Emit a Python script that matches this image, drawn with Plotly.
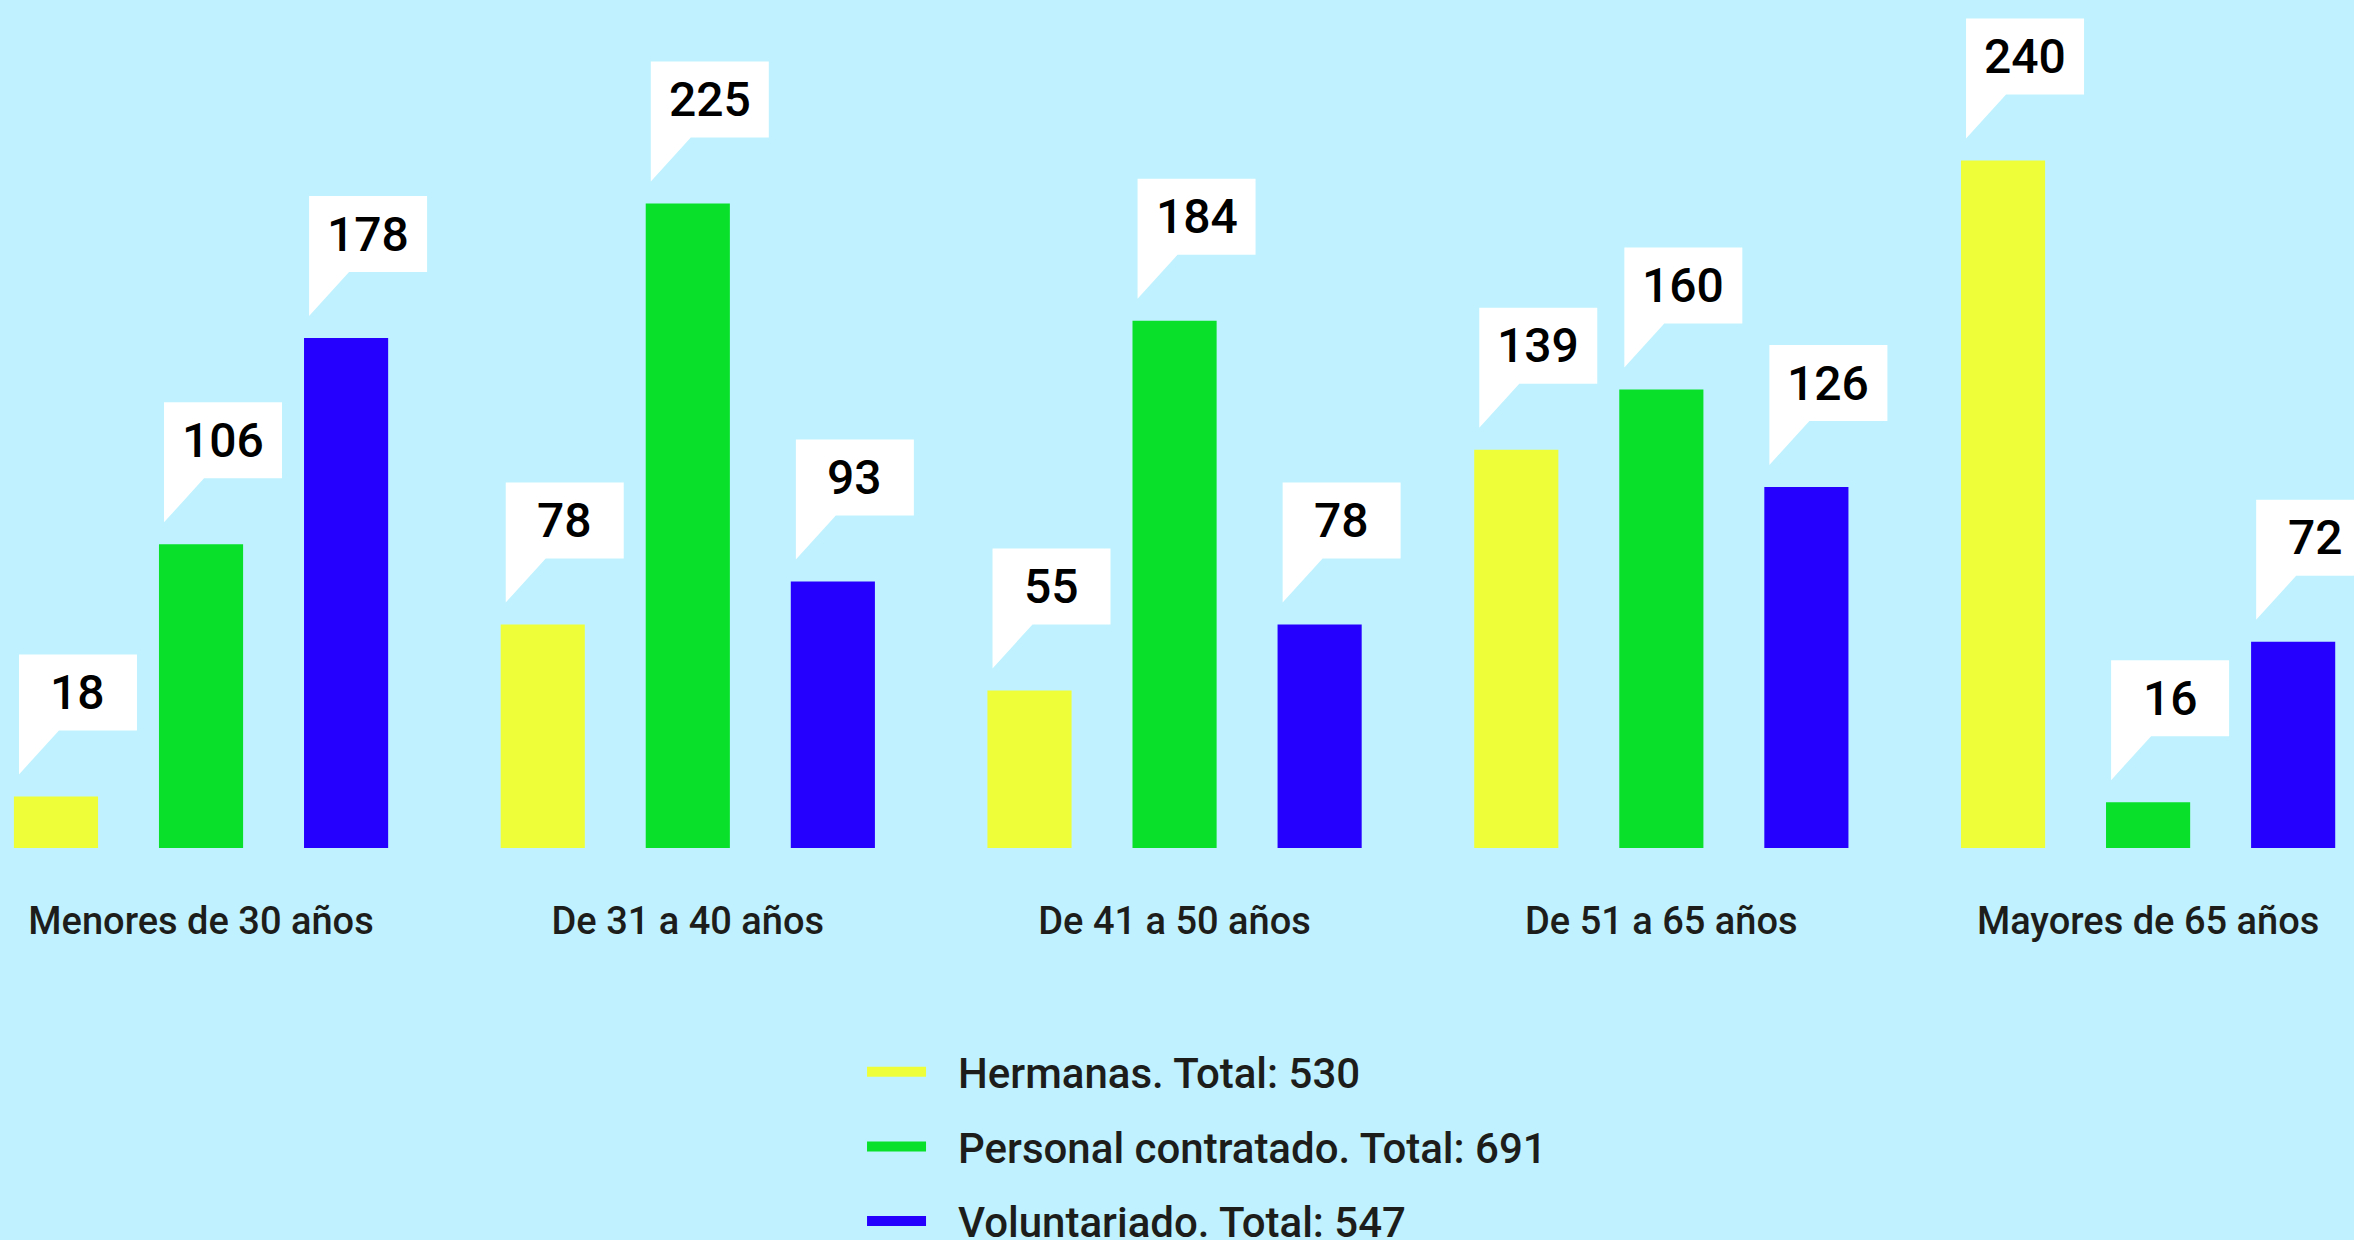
import plotly.graph_objects as go

categories = ["Menores de 30 años", "De 31 a 40 años", "De 41 a 50 años",
              "De 51 a 65 años", "Mayores de 65 años"]
series_names = ["Hermanas. Total: 530", "Personal contratado. Total: 691",
                "Voluntariado. Total: 547"]
hermanas = [18, 78, 55, 139, 240]
personal = [106, 225, 184, 160, 16]
voluntariado = [178, 93, 78, 126, 72]
series_values = [hermanas, personal, voluntariado]
colors = ["#EEFF3A", "#08E02A", "#2600FF"]

BG = "#BFF2FE"
BARGAP = 0.106
GROUPGAP = 0.42
FONT = "Roboto"

fig = go.Figure()
xs = list(range(len(categories)))
for name, vals, col in zip(series_names, series_values, colors):
    fig.add_trace(go.Bar(x=xs, y=vals, name=name, marker_color=col,
                         marker_line_width=0, showlegend=False,
                         hoverinfo="skip"))
for k, (name, col) in enumerate(zip(series_names, colors)):
    fig.add_trace(go.Scatter(x=[None], y=[None], mode="lines", name=name,
                             line=dict(color=col, width=11, dash="59px,400px"),
                             legendgroup=f"g{k}", showlegend=True))

slot = (1 - BARGAP) / len(series_values)
callout = "M -37,22 L -37,142 L 81,142 L 81,66 L 3,66 Z"
for k, vals in enumerate(series_values):
    for i, v in enumerate(vals):
        xc = i + (k - 1) * slot
        fig.add_shape(type="path", xref="x", yref="y", xsizemode="pixel",
                      ysizemode="pixel", xanchor=xc, yanchor=v, path=callout,
                      fillcolor="white", line_width=0, layer="above")
        fig.add_annotation(x=xc, y=v, xref="x", yref="y", text=str(v),
                           showarrow=False, xshift=22, yshift=104,
                           font=dict(family=FONT, size=48, color="#000000",
                                     weight=500))

fig.update_layout(
    width=2354, height=1240,
    paper_bgcolor=BG, plot_bgcolor=BG,
    margin=dict(l=0, r=0, t=0, b=392, autoexpand=False),
    barmode="group", bargap=BARGAP, bargroupgap=GROUPGAP,
    xaxis=dict(range=[-0.413, 4.423], tickvals=xs, ticktext=categories,
               showgrid=False, zeroline=False, showline=False, ticks="",
               ticklabelstandoff=47,
               tickfont=dict(family=FONT, size=38, color="#1d1d1b", weight=500)),
    yaxis=dict(range=[0, 296], visible=False, showgrid=False, zeroline=False),
    showlegend=True,
    legend=dict(x=0.3662, xanchor="left", y=-0.2241, yanchor="top",
                bgcolor="rgba(0,0,0,0)", traceorder="grouped",
                tracegroupgap=17, itemwidth=86,
                font=dict(family=FONT, size=42, color="#1d1d1b", weight=500)),
)

fig.write_html("out.html", config={"displayModeBar": False},
               post_script="document.body.style.margin='0';")
